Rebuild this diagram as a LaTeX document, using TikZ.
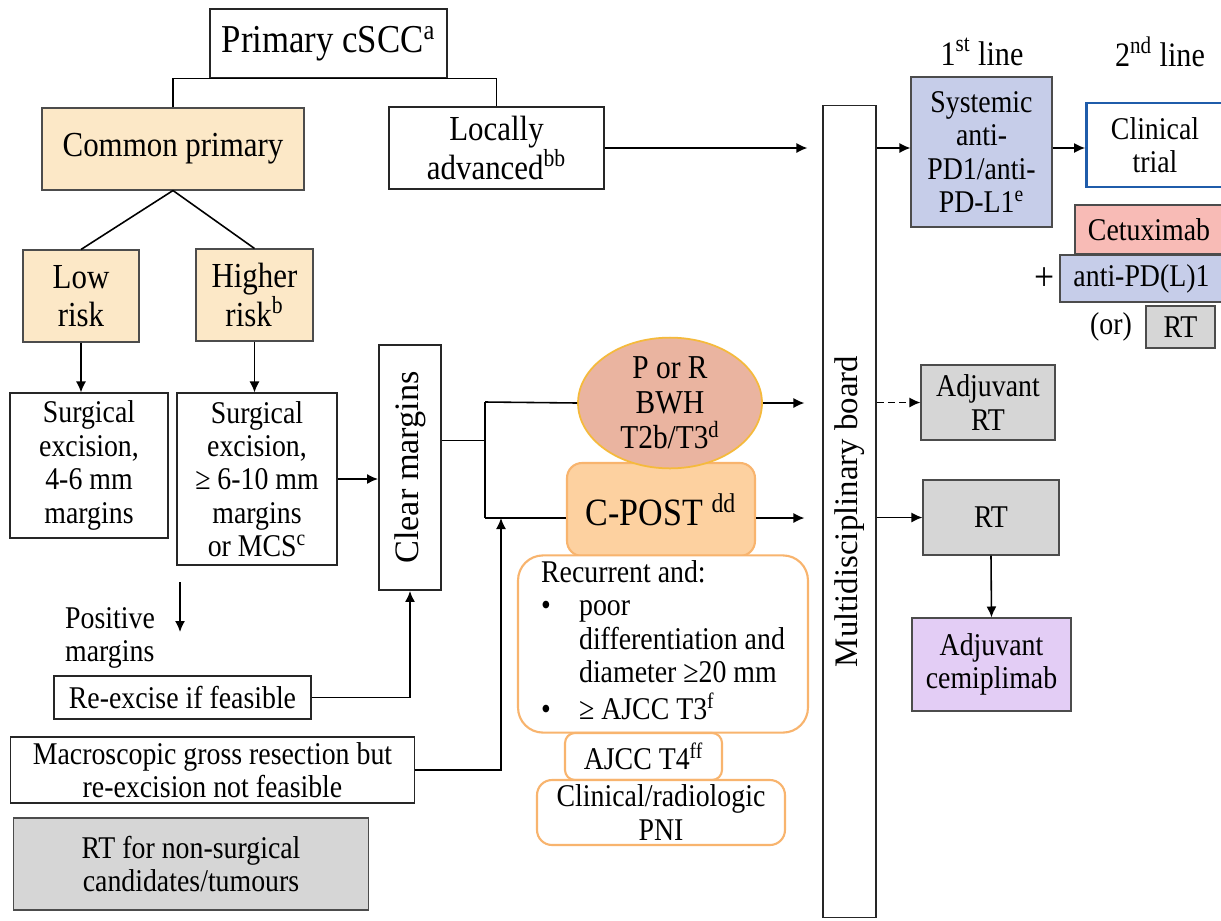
\documentclass[tikz,border=0pt]{standalone}
\usepackage{fontspec}
\usepackage{graphicx}
\setmainfont{Liberation Serif}[FakeStretch=0.88]
\newfontfamily\sidefont{Liberation Serif}
\usetikzlibrary{positioning,shapes.geometric,arrows.meta,calc}

\definecolor{primaryfill}{HTML}{FCE8C7}
\definecolor{bluefill}{HTML}{C6CDE9}
\definecolor{pinkfill}{HTML}{F8BBB6}
\definecolor{greyfill}{HTML}{D6D6D6}
\definecolor{lavender}{HTML}{E3CDF5}
\definecolor{peach}{HTML}{FDD1A0}
\definecolor{salmon}{HTML}{EAB4A0}
\definecolor{orangeline}{HTML}{F8B46E}
\definecolor{goldline}{HTML}{F5BA3C}
\definecolor{trialblue}{HTML}{1F5CAA}

\tikzset{
    % Plain white boxes
    plainbox/.style={
        draw=black!85,
        fill=white,
        line width=0.6pt,
        align=center,
        inner sep=2pt,
        font=\fontsize{18}{19}\selectfont
    },
    % Risk group boxes
    riskbox/.style={
        plainbox,
        draw=black!70,
        fill=primaryfill,
        font=\fontsize{20}{22}\selectfont
    },
    % Treatment boxes
    therapybox/.style={
        plainbox,
        draw=black!70
    },
    greybox/.style={
        therapybox,
        fill=greyfill
    },
    % Rounded orange boxes
    softbox/.style={
        plainbox,
        draw=orangeline,
        line width=1.2pt
    },
    % Plain lines and arrows
    link/.style={
        line width=0.9pt,
        black
    },
    dataarrow/.style={
        -{Latex[length=2.2mm,width=2mm]},
        line width=0.9pt,
        black
    }
}

\begin{document}
\begin{tikzpicture}[x=0.02cm,y=-0.02cm]

\path[use as bounding box, fill=white] (0,0) rectangle (1221,920);

% === PRIMARY TUMOUR ===
\node[plainbox, minimum width=4.74cm, minimum height=1.38cm, font=\fontsize{22.5}{24}\selectfont] (cscc) at (328.5,43.5) {Primary cSCC\textsuperscript{a}};

\node[riskbox, minimum width=5.24cm, minimum height=1.64cm] (common) at (173,149) {Common primary};
\node[plainbox, minimum width=4.3cm, minimum height=1.64cm, font=\fontsize{20}{21}\selectfont] (locally) at (496.5,148) {Locally\\advanced\textsuperscript{bb}};

\draw[link] (common.north) -- (common.north |- cscc.south) -- (locally.north |- cscc.south) -- (locally.north);

% === RISK GROUPS ===
\node[riskbox, minimum width=2.32cm, minimum height=1.84cm] (lowrisk) at (81,296) {Low\\risk};
\node[riskbox, minimum width=2.34cm, minimum height=1.84cm] (highrisk) at (254.5,295) {Higher\\risk\textsuperscript{b}};

\draw[link] (common.south) -- (lowrisk.north);
\draw[link] (common.south) -- (highrisk.north);

\node[plainbox, minimum width=3.16cm, minimum height=2.9cm] (lowexcision) at (89,465.5) {Surgical\\excision,\\4-6 mm\\margins};
\node[plainbox, minimum width=3.2cm, minimum height=3.44cm] (highexcision) at (257,479) {Surgical\\excision,\\≥ 6-10 mm\\margins\\or MCS\textsuperscript{c}};

\draw[dataarrow] (lowrisk.south) -- (lowrisk.south |- lowexcision.north);
\draw[dataarrow] (highrisk.south) -- (highrisk.south |- highexcision.north);

% Margins
\node[plainbox, line width=1.1pt, minimum width=1.24cm, minimum height=4.9cm, font=\fontsize{19.5}{20}\selectfont] (clear) at (410,467.5) {\rotatebox{90}{\sidefont Clear margins}};
\draw[dataarrow] (highexcision.east) -- (highexcision.east -| clear.west);

\node[font=\fontsize{18}{19}\selectfont, align=left, anchor=west] (posmargins) at (59,638) {Positive\\margins};
\coordinate (posfrom) at (180,582);
\coordinate (posto) at (180,632);
\draw[dataarrow] (posfrom) -- (posto);

\node[plainbox, minimum width=5.14cm, minimum height=0.86cm] (reexcise) at (182.5,697.5) {Re-excise if feasible};
\node[plainbox, minimum width=8.1cm, minimum height=1.32cm] (macro) at (212.5,770) {Macroscopic gross resection but\\re-excision not feasible};
\node[greybox, minimum width=7.12cm, minimum height=1.84cm] (nonsurg) at (191,864) {RT for non-surgical\\candidates/tumours};

\draw[dataarrow] (reexcise.east) -| (clear.south);

% === HIGH RISK FEATURES ===
\node[softbox, fill=peach, rounded corners=0.3cm, minimum width=3.76cm, minimum height=1.86cm, font=\fontsize{22}{24}\selectfont] (cpost) at (661,509.5) {C-POST \textsuperscript{dd}};
\node[ellipse, draw=goldline, fill=salmon, line width=1pt, minimum width=3.68cm, minimum height=2.4cm, inner sep=0pt, align=center, font=\fontsize{19}{20}\selectfont] (bwh) at (670,403) {P or R\\BWH\\T2b/T3\textsuperscript{d}};

\node[softbox, rounded corners=0.5cm, minimum width=5.8cm, minimum height=3.44cm, align=left] (recurrent) at (663,644) {%
    \begin{tabular}{@{}p{0.76cm}@{}l@{}}
        \multicolumn{2}{@{}l}{Recurrent and:}\\
        \textbullet & poor\\
                    & differentiation and\\
                    & diameter ≥20 mm\\
        \textbullet & ≥ AJCC T3\textsuperscript{f}
    \end{tabular}};
\node[softbox, rounded corners=0.2cm, minimum width=3.14cm, minimum height=0.94cm] (ajcc) at (643.5,756.5) {AJCC T4\textsuperscript{ff}};
\node[softbox, rounded corners=0.3cm, minimum width=4.96cm, minimum height=1.3cm] (pni) at (661,812.5) {Clinical/radiologic\\PNI};

% Junction after clear margins
\coordinate (clearout) at ([yshift=0.54cm]clear.east);
\coordinate (jtop) at (485,402);
\coordinate (jbot) at (485,518);
\coordinate (jin) at (501,518);
\draw[link] (clearout) -- (clearout -| jtop);
\draw[link] (jtop) -- (jbot);
\draw[link] (jtop) -- (bwh.west);
\draw[link] (jbot) -- (jbot -| cpost.west);
\draw[dataarrow] (macro.east) -| (jin);

% === MULTIDISCIPLINARY BOARD ===
\node[plainbox, minimum width=1.06cm, minimum height=16.26cm, font=\fontsize{18.7}{20}\selectfont] (board) at (849.5,511.5) {\rotatebox{90}{\sidefont Multidisciplinary board}};

\draw[dataarrow, shorten >=0.3cm] (locally.east) -- (locally.east -| board.west);
\draw[dataarrow, shorten >=0.36cm] (bwh.east) -- (bwh.east -| board.west);
\draw[dataarrow, shorten >=0.36cm] (cpost.east |- jbot) -- (jbot -| board.west);

% === SYSTEMIC LINES ===
\node[font=\fontsize{19.5}{22}\selectfont] (firstline) at (982,52) {1\textsuperscript{st} line};
\node[font=\fontsize{19.5}{22}\selectfont] (secondline) at (1160,52) {2\textsuperscript{nd} line};

\node[therapybox, fill=bluefill, minimum width=2.82cm, minimum height=3cm] (systemic) at (981.5,152) {Systemic\\anti-\\PD1/anti-\\PD-L1\textsuperscript{e}};
\node[plainbox, draw=trialblue, line width=1.5pt, minimum width=2.74cm, minimum height=1.68cm] (trial) at (1155,145) {Clinical\\trial};
\node[therapybox, fill=pinkfill, minimum width=2.96cm, minimum height=0.98cm] (cetuximab) at (1149,229.5) {Cetuximab};
\node[therapybox, fill=bluefill, minimum width=3.26cm, minimum height=0.94cm] (antipd) at (1141.5,278.5) {anti-PD(L)1};
\node[font=\fontsize{23}{24}\selectfont] (plus) at (1045,279) {+};
\node[font=\fontsize{18}{19}\selectfont] (ortext) at (1111,327) {(or)};
\node[greybox, minimum width=1.38cm, minimum height=0.84cm] (rtalt) at (1180.5,327) {RT};

\draw[dataarrow] (board.east |- locally.east) -- (systemic.west |- locally.east);
\draw[dataarrow] (systemic.east |- locally.east) -- (trial.west |- locally.east);

% === ADJUVANT ===
\node[greybox, minimum width=2.68cm, minimum height=1.5cm] (adjrt) at (988,402.5) {Adjuvant\\RT};
\node[greybox, minimum width=2.72cm, minimum height=1.5cm] (rt) at (991,517.5) {RT};
\node[therapybox, fill=lavender, minimum width=3.18cm, minimum height=1.86cm] (cemiplimab) at (991.5,664.5) {Adjuvant\\cemiplimab};

\draw[dataarrow, dash pattern=on 4pt off 2.5pt] (board.east |- adjrt.west) -- (adjrt.west);
\draw[dataarrow] (board.east |- rt.west) -- (rt.west);
\draw[dataarrow] (rt.south) -- (cemiplimab.north);

\end{tikzpicture}
\end{document}
